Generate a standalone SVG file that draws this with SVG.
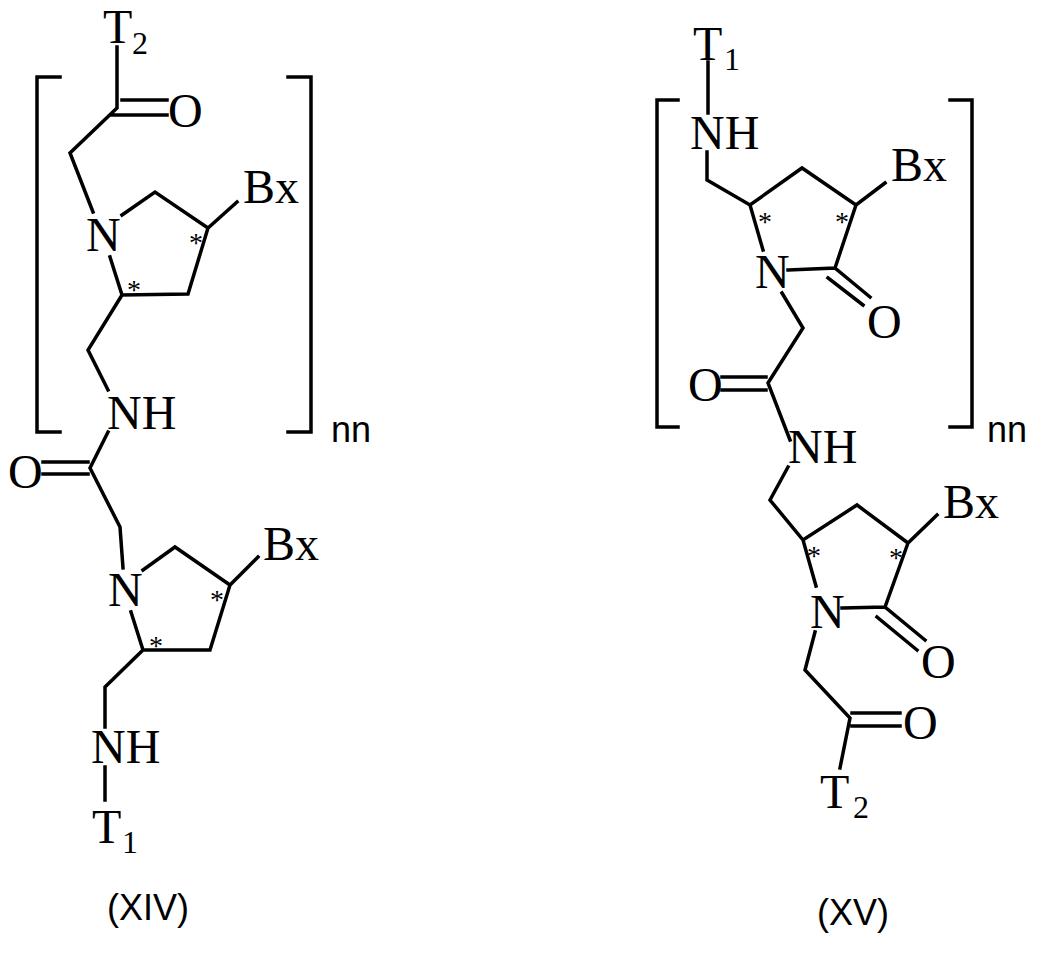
<svg xmlns="http://www.w3.org/2000/svg" width="1047" height="955" viewBox="0 0 1047 955">
<style>
.b{fill:none;stroke:#000;stroke-width:3.5;stroke-linecap:square;stroke-linejoin:miter}
.t{font-family:"Liberation Serif",serif;font-size:48px;fill:#000}
.s{font-family:"Liberation Serif",serif;font-size:32px;fill:#000}
.a{font-family:"Liberation Serif",serif;font-size:28px;fill:#000}
.l{font-family:"Liberation Sans",Arial,sans-serif;font-size:36px;fill:#000}
</style>
<rect width="1047" height="955" fill="#fff"/>
<g id="xiv">
<path class="b" d="M117,47 L117,108 L70,153 L93,212 M122,100 L167,100 M112,115 L167,115 M122,215 L155,192 L208,228 L188,294 L122,295 L110,257 M208,228 L237,202 M122,295 L88,350 L108,390"/>
<path class="b" d="M60,77 L37,77 L37,432 L60,432 M288,77 L311,77 L311,432 L288,432"/>
<path class="b" d="M108,432 L90,468 L120,527 L123,568 M43,462 L88,462 M43,474 L88,474 M143,570 L175,547 L230,585 L210,650 L143,650 L131,612 M230,585 L258,557 M143,650 L105,687 L105,727 M105,767 L105,800"/>
<text class="t" x="103" y="43">T</text><text class="s" x="132" y="54">2</text>
<text class="t" x="168" y="127">O</text>
<text class="t" x="86" y="251">N</text>
<text class="t" x="243" y="203">Bx</text>
<text class="a" x="189" y="252">*</text><text class="a" x="127" y="299">*</text>
<text class="t" x="107" y="429">NH</text>
<text class="l" x="331" y="442">nn</text>
<text class="t" x="8" y="488">O</text>
<text class="t" x="108" y="606">N</text>
<text class="t" x="263" y="560">Bx</text>
<text class="a" x="210" y="609">*</text><text class="a" x="149" y="655">*</text>
<text class="t" x="91" y="763">NH</text>
<text class="t" x="92" y="843">T</text><text class="s" x="122" y="853">1</text>
<text class="l" x="148" y="920" text-anchor="middle">(XIV)</text>
</g>
<g id="xv">
<path class="b" d="M708,62 L708,113 M707,152 L707,180 L750,205 L802,168 L856,205 L835,268 L788,270 M750,205 L763,250 M856,205 L885,183 M835,268 L870,297 M828,278 L863,305 M782,293 L803,328 L768,383 L790,440 M722,377 L766,377 M722,390 L766,390"/>
<path class="b" d="M678,100 L657,100 L657,427 L678,427 M950,100 L972,100 L972,427 L950,427"/>
<path class="b" d="M788,467 L770,500 L803,540 L857,505 L908,543 L885,607 L842,608 M803,540 L816,586 M908,543 L937,515 M885,607 L925,640 M877,617 L917,650 M815,632 L805,670 L850,718 L840,768 M852,713 L900,713 M852,726 L900,726"/>
<text class="t" x="693" y="60">T</text><text class="s" x="724" y="70">1</text>
<text class="t" x="690" y="149">NH</text>
<text class="t" x="891" y="181">Bx</text>
<text class="a" x="758" y="231">*</text><text class="a" x="835" y="231">*</text>
<text class="t" x="755" y="288">N</text>
<text class="t" x="867" y="338">O</text>
<text class="t" x="688" y="401">O</text>
<text class="t" x="788" y="463">NH</text>
<text class="l" x="987" y="442">nn</text>
<text class="t" x="943" y="518">Bx</text>
<text class="a" x="807" y="565">*</text><text class="a" x="889" y="567">*</text>
<text class="t" x="810" y="628">N</text>
<text class="t" x="921" y="678">O</text>
<text class="t" x="903" y="739">O</text>
<text class="t" x="820" y="808">T</text><text class="s" x="853" y="818">2</text>
<text class="l" x="853" y="925" text-anchor="middle">(XV)</text>
</g>
</svg>
